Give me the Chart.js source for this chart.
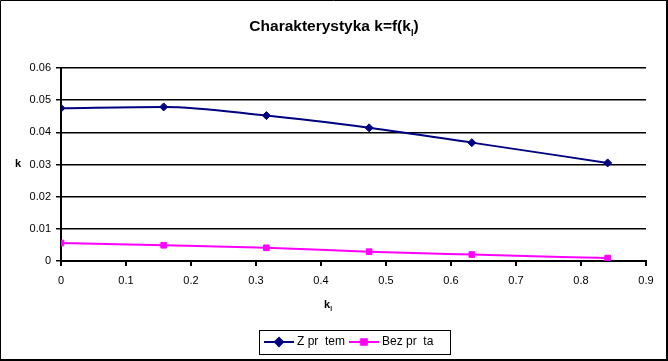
<!DOCTYPE html>
<html>
<head>
<meta charset="utf-8">
<script src="https://cdn.jsdelivr.net/npm/chart.js@4/dist/chart.umd.min.js"></script>
<style>
  body { margin: 0; background: #fff; }
  canvas { display: block; }
</style>
</head>
<body>
<canvas id="chart" width="668" height="361"></canvas>
<script>
// data
const kl = [0, 0.158, 0.316, 0.474, 0.632, 0.841];
const withRod = [0.0475, 0.0479, 0.0452, 0.0414, 0.0368, 0.0305];
const withoutRod = [0.0056, 0.0049, 0.0041, 0.0029, 0.0020, 0.0009];
const seriesNames = ['Z pr  tem', 'Bez pr  ta'];
const xTicks = [0, 0.1, 0.2, 0.3, 0.4, 0.5, 0.6, 0.7, 0.8, 0.9];
const yTicks = [0, 0.01, 0.02, 0.03, 0.04, 0.05, 0.06];

const FONT = 'Arial, "Liberation Sans", sans-serif';
Chart.defaults.font.family = FONT;
Chart.defaults.color = '#000';

const pts = (ys) => kl.map((x, i) => ({ x: x, y: ys[i] }));

// text with a small subscript part, e.g. k + l
function subText(ctx, parts, cx, cy, size) {
    ctx.save();
    ctx.textBaseline = 'alphabetic';
    ctx.textAlign = 'left';
    let w = 0;
    parts.forEach(p => {
        ctx.font = 'bold ' + (p.sub ? size * 0.6 : size) + 'px ' + FONT;
        w += ctx.measureText(p.t).width;
    });
    let x = cx - w / 2;
    parts.forEach(p => {
        ctx.font = 'bold ' + (p.sub ? size * 0.6 : size) + 'px ' + FONT;
        ctx.fillText(p.t, x, cy + (p.sub ? size * 0.3 : 0));
        x += ctx.measureText(p.t).width;
    });
    ctx.restore();
}

const decor = {
    id: 'decor',
    afterDraw(chart) {
        const ctx = chart.ctx;
        ctx.save();
        ctx.fillStyle = '#000';
        // title
        subText(ctx, [{ t: 'Charakterystyka k=f(k' }, { t: 'l', sub: true }, { t: ')' }], 334, 31, 15.5);
        // x axis title
        subText(ctx, [{ t: 'k' }, { t: 'l', sub: true }], 328, 308, 11);
        // y axis title
        ctx.font = 'bold 11px ' + FONT;
        ctx.textAlign = 'center';
        ctx.textBaseline = 'middle';
        ctx.fillText('k', 18, 164);

        // legend
        const lx = 259.5, ly = 330.5, lw = 191, lh = 24;
        ctx.strokeStyle = '#000';
        ctx.lineWidth = 1;
        ctx.strokeRect(lx, ly, lw, lh);
        const items = chart.data.datasets;
        const starts = [264, 349];
        ctx.font = '12px ' + FONT;
        ctx.textAlign = 'left';
        ctx.textBaseline = 'middle';
        items.forEach((ds, i) => {
            const x0 = starts[i], yMid = 342;
            ctx.strokeStyle = ds.borderColor;
            ctx.lineWidth = 2;
            ctx.beginPath();
            ctx.moveTo(x0, yMid);
            ctx.lineTo(x0 + 30, yMid);
            ctx.stroke();
            ctx.fillStyle = ds.backgroundColor;
            const r = ds.pointRadius;
            Chart.helpers.drawPoint(ctx, { pointStyle: ds.pointStyle, radius: r, borderWidth: 1 }, x0 + 15, yMid);
            ctx.fillStyle = '#000';
            ctx.fillText(ds.label, x0 + 33, yMid);
        });

        // outer frame
        ctx.strokeStyle = '#000';
        ctx.lineWidth = 1;
        ctx.beginPath();
        ctx.moveTo(0.5, 359); ctx.lineTo(0.5, 0.5); ctx.lineTo(667, 0.5);
        ctx.stroke();
        ctx.fillStyle = '#000';
        ctx.fillRect(666, 0, 2, 361);
        ctx.fillRect(0, 359, 668, 2);
        ctx.restore();
    }
};

new Chart(document.getElementById('chart'), {
    type: 'line',
    data: {
        datasets: [
            {
                label: seriesNames[0],
                data: pts(withRod),
                borderColor: '#000080',
                backgroundColor: '#000080',
                borderWidth: 2,
                pointStyle: 'rectRot',
                pointRadius: 4,
                pointBorderWidth: 1,
                cubicInterpolationMode: 'monotone'
            },
            {
                label: seriesNames[1],
                data: pts(withoutRod),
                borderColor: '#ff00ff',
                backgroundColor: '#ff00ff',
                borderWidth: 2,
                pointStyle: 'rect',
                pointRadius: 4,
                pointBorderWidth: 1,
                cubicInterpolationMode: 'monotone'
            }
        ]
    },
    options: {
        responsive: false,
        animation: false,
        layout: { padding: { left: 0, right: 22, top: 68, bottom: 0 } },
        plugins: {
            legend: { display: false },
            title: { display: false },
            tooltip: { enabled: false }
        },
        scales: {
            x: {
                type: 'linear',
                min: xTicks[0],
                max: xTicks[xTicks.length - 1],
                afterBuildTicks: (axis) => { axis.ticks = xTicks.map(v => ({ value: v })); },
                afterFit: (axis) => { axis.height = 100; },
                border: { color: '#000', width: 2 },
                grid: { drawOnChartArea: false, color: '#000', lineWidth: 2, tickLength: 5 },
                ticks: {
                    padding: 8,
                    maxRotation: 0,
                    font: { size: 11 },
                    callback: (v) => v === 0 ? '0' : v.toFixed(1)
                }
            },
            y: {
                min: yTicks[0],
                max: yTicks[yTicks.length - 1],
                afterBuildTicks: (axis) => { axis.ticks = yTicks.map(v => ({ value: v })); },
                afterFit: (axis) => { axis.width = 61; },
                border: { color: '#000', width: 2 },
                grid: { color: '#000', lineWidth: 1.5, tickLength: 5 },
                ticks: {
                    padding: 5,
                    font: { size: 11 },
                    callback: (v) => v === 0 ? '0' : v.toFixed(2)
                }
            }
        }
    },
    plugins: [decor]
});
</script>
</body>
</html>
